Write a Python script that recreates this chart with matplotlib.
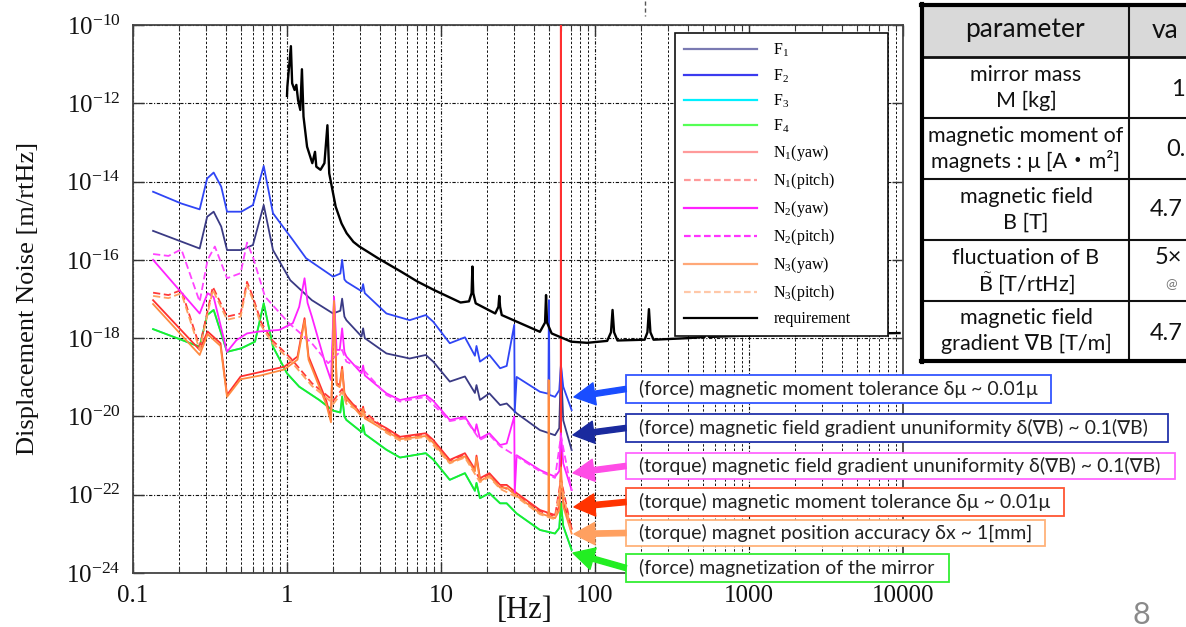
import matplotlib
matplotlib.use("Agg")
import matplotlib.pyplot as plt
from matplotlib.patches import Rectangle, FancyArrowPatch
from matplotlib.lines import Line2D
from matplotlib.ticker import NullLocator, LogLocator, NullFormatter

plt.rcParams['font.family'] = ['Liberation Serif', 'DejaVu Serif']
plt.rcParams['mathtext.fontset'] = 'custom'
plt.rcParams['mathtext.rm'] = 'Liberation Serif'
plt.rcParams['mathtext.it'] = 'Liberation Serif:italic'
plt.rcParams['mathtext.bf'] = 'Liberation Serif:bold'
plt.rcParams['mathtext.sf'] = 'Lato'

# ---------------- data ----------------
f1_freq = [0.135, 0.271, 0.303, 0.334, 0.374, 0.408, 0.505, 0.601, 0.706, 0.811, 1.05, 1.45, 1.99, 2.22, 2.28,
           2.36, 2.43, 3.05, 3.12, 3.2, 4.42, 6.26, 7.96, 8.9, 11.4, 14.3, 16.6, 17.0, 17.9, 20.6, 24.2, 26.7,
           31.0, 43.9, 55.0, 58.6, 60.1, 62.2, 70.5]
f1_vals = [5.50e-16, 1.95e-16, 1.26e-15, 1.70e-15, 7.08e-16, 1.78e-16, 1.78e-16, 2.40e-16, 2.51e-15, 1.78e-16,
           3.02e-17, 9.33e-18, 4.27e-18, 5.01e-18, 1.02e-17, 3.55e-18, 2.88e-18, 1.10e-18, 1.78e-18, 1.00e-18,
           4.07e-19, 3.02e-19, 3.72e-19, 2.51e-19, 7.76e-20, 1.05e-19, 3.98e-20, 6.31e-20, 2.63e-20, 3.89e-20,
           1.95e-20, 2.14e-20, 1.20e-20, 4.47e-21, 3.31e-21, 5.01e-21, 2.29e-19, 7.94e-21, 1.38e-21]

f2_freq = [0.135, 0.206, 0.271, 0.303, 0.334, 0.374, 0.408, 0.505, 0.601, 0.706, 0.811, 1.09, 1.33, 1.99, 2.22,
           2.28, 2.36, 2.43, 3.05, 3.12, 3.2, 4.42, 6.26, 7.96, 8.9, 11.4, 14.3, 16.6, 17.0, 17.9, 20.6, 24.2,
           26.7, 29.9, 30.1, 31.0, 43.9, 49.8, 50.2, 50.6, 55.0, 58.6, 60.1, 62.2, 70.5]
f2_vals = [5.50e-15, 2.75e-15, 1.95e-15, 1.20e-14, 1.70e-14, 7.41e-15, 1.70e-15, 1.70e-15, 2.51e-15, 2.51e-14,
           1.55e-15, 3.24e-16, 1.10e-16, 3.72e-17, 4.47e-17, 1.00e-16, 3.16e-17, 2.75e-17, 1.58e-17, 2.40e-17,
           1.41e-17, 4.27e-18, 2.88e-18, 3.89e-18, 2.63e-18, 7.41e-19, 1.05e-18, 3.55e-19, 6.31e-19, 2.51e-19,
           3.72e-19, 1.70e-19, 1.95e-19, 2.19e-18, 1.26e-20, 1.02e-19, 4.27e-20, 3.80e-20, 9.33e-18, 3.55e-20,
           3.16e-20, 4.68e-20, 2.04e-19, 5.75e-20, 1.45e-20]

f4_freq = [0.135, 0.271, 0.303, 0.334, 0.408, 0.505, 0.62, 0.706, 0.811, 1.0, 1.2, 1.62, 1.99, 2.22, 2.28, 2.36,
           2.43, 3.05, 3.12, 3.2, 4.42, 5.42, 7.96, 8.9, 11.4, 14.3, 16.6, 17.0, 17.9, 20.6, 24.2, 26.7, 31.0,
           43.9, 55.0, 58.6, 60.1, 62.2, 70.5]
f4_vals = [1.70e-18, 6.03e-19, 3.89e-18, 5.25e-18, 4.47e-19, 5.50e-19, 8.13e-19, 7.76e-18, 6.03e-19, 1.26e-19,
           5.75e-20, 2.63e-20, 1.41e-20, 1.26e-20, 3.24e-20, 1.00e-20, 8.13e-21, 3.98e-21, 6.03e-21, 3.55e-21,
           1.41e-21, 8.91e-22, 1.15e-21, 7.94e-22, 2.40e-22, 3.55e-22, 1.26e-22, 2.00e-22, 8.13e-23, 1.10e-22,
           6.03e-23, 6.03e-23, 3.31e-23, 1.26e-23, 1.02e-23, 1.41e-23, 6.03e-23, 1.58e-23, 3.89e-24]

# F3 lies under F4 in the picture (not visible separately)
f3_freq = f4_freq
f3_vals = f4_vals

n1yaw_freq = [0.135, 0.271, 0.305, 0.37, 0.408, 0.50, 0.68, 0.96, 1.17, 1.30, 1.38, 1.80, 1.93, 2.02, 2.10, 2.20,
              2.28, 2.36, 2.43, 3.05, 3.12, 3.2, 4.42, 5.42, 7.96, 8.9, 11.4, 14.3, 16.6, 17.0, 17.9, 20.6, 24.2,
              26.7, 31.0, 43.9, 55.0, 58.6, 59.9, 60.0, 60.2, 62.2, 70.5]
n1yaw_vals = [9.33e-18, 5.01e-19, 1.48e-18, 7.41e-19, 3.55e-20, 1.05e-19, 1.38e-19, 1.86e-19, 3.39e-19, 3.24e-18,
              3.39e-19, 2.51e-20, 8.13e-21, 1.05e-17, 7.08e-20, 6.31e-20, 1.86e-19, 3.98e-20, 3.24e-20, 1.12e-20,
              1.78e-20, 1.00e-20, 5.01e-21, 3.02e-21, 3.72e-21, 2.51e-21, 7.76e-22, 1.15e-21, 4.47e-22, 1.00e-21,
              2.63e-22, 3.55e-22, 1.78e-22, 1.78e-22, 1.10e-22, 4.07e-23, 3.02e-23, 5.01e-23, 3.16e-22, 3.16e-10,
              2.51e-22, 6.31e-23, 1.38e-23]

n1pitch_freq = [0.135, 0.17, 0.206, 0.271, 0.33, 0.408, 0.50, 0.55, 0.60, 0.68, 0.80, 1.05, 1.45, 1.80, 2.00, 2.28,
                2.43, 3.12, 4.42, 5.42, 7.96, 11.4, 14.3, 17.9, 20.6, 24.2, 31.0, 43.9, 55.0, 60.1, 70.5]
n1pitch_vals = [1.45e-17, 1.26e-17, 1.70e-17, 6.03e-19, 2.04e-17, 3.55e-18, 4.27e-18, 2.75e-17, 1.15e-17, 2.51e-18,
                8.91e-19, 3.16e-19, 7.08e-20, 3.55e-20, 2.51e-20, 5.01e-20, 2.51e-20, 1.41e-20, 4.47e-21, 2.82e-21,
                3.55e-21, 7.41e-22, 1.07e-21, 2.51e-22, 3.39e-22, 1.70e-22, 1.05e-22, 3.80e-23, 2.82e-23, 2.51e-22,
                1.26e-23]

n2yaw_freq = [0.135, 0.271, 0.305, 0.334, 0.408, 0.47, 0.55, 0.66, 0.89, 1.09, 1.20, 1.30, 1.36, 1.45, 1.77, 1.93,
              2.02, 2.10, 2.20, 2.28, 2.36, 2.43, 3.05, 3.12, 3.2, 4.42, 5.42, 7.96, 8.9, 11.4, 14.3, 16.6, 17.0,
              17.9, 20.6, 24.2, 26.7, 29.9, 30.1, 31.0, 43.9, 55.0, 58.6, 60.1, 62.2, 70.5]
n2yaw_vals = [1.00e-16, 4.27e-18, 1.41e-17, 1.12e-17, 4.47e-19, 8.91e-19, 1.32e-18, 1.48e-18, 1.62e-18, 2.40e-18,
              6.31e-18, 3.39e-17, 7.94e-18, 3.55e-18, 2.29e-19, 8.51e-20, 1.15e-17, 5.01e-19, 5.01e-19, 1.78e-18,
              4.47e-19, 3.39e-19, 1.26e-19, 2.00e-19, 1.12e-19, 3.89e-20, 2.63e-20, 3.55e-20, 2.51e-20, 8.13e-21,
              9.77e-21, 3.98e-21, 6.31e-21, 2.75e-21, 3.72e-21, 1.86e-21, 2.04e-21, 1.00e-20, 1.10e-22, 1.02e-21,
              4.27e-22, 2.88e-22, 3.98e-22, 3.72e-21, 6.31e-22, 1.32e-22]

n2pitch_freq = [0.135, 0.17, 0.206, 0.271, 0.305, 0.34, 0.408, 0.50, 0.55, 0.60, 0.72, 1.03, 1.45, 1.85, 2.28, 2.43,
                3.12, 4.42, 5.42, 7.96, 11.4, 14.3, 17.9, 20.6, 24.2, 31.0, 43.9, 55.0, 60.1, 70.5]
n2pitch_vals = [1.41e-16, 1.26e-16, 1.86e-16, 8.51e-18, 1.00e-16, 2.19e-16, 3.39e-17, 4.57e-17, 2.75e-16, 1.20e-16,
                1.15e-17, 2.40e-18, 7.41e-19, 2.29e-19, 5.01e-19, 2.51e-19, 1.58e-19, 3.55e-20, 2.40e-20, 3.16e-20,
                7.59e-21, 8.91e-21, 2.51e-21, 3.39e-21, 1.74e-21, 9.55e-22, 3.98e-22, 2.69e-22, 3.16e-21, 1.26e-22]

n3yaw_freq = [0.135, 0.271, 0.305, 0.37, 0.408, 0.50, 0.68, 0.96, 1.17, 1.30, 1.38, 1.80, 1.93, 2.02, 2.10, 2.20,
              2.28, 2.36, 2.43, 3.05, 3.12, 3.2, 4.42, 5.42, 7.96, 8.9, 11.4, 14.3, 16.6, 17.0, 17.9, 20.6, 24.2,
              26.7, 31.0, 43.9, 49.8, 50.0, 50.3, 55.0, 58.6, 60.1, 62.2, 70.5]
n3yaw_vals = [7.41e-18, 3.72e-19, 1.26e-18, 6.31e-19, 3.16e-20, 8.91e-20, 1.12e-19, 1.58e-19, 2.82e-19, 2.82e-18,
              2.82e-19, 2.00e-20, 7.08e-21, 8.91e-18, 6.31e-20, 5.62e-20, 1.58e-19, 3.55e-20, 2.82e-20, 1.00e-20,
              1.58e-20, 8.91e-21, 4.17e-21, 2.63e-21, 3.16e-21, 2.14e-21, 6.61e-22, 9.55e-22, 3.98e-22, 8.91e-22,
              2.24e-22, 3.02e-22, 1.51e-22, 1.51e-22, 9.33e-23, 3.39e-23, 2.82e-23, 8.51e-20, 2.82e-23, 2.51e-23,
              3.98e-23, 5.01e-22, 5.01e-23, 1.02e-23]

n3pitch_freq = [0.135, 0.17, 0.206, 0.271, 0.33, 0.408, 0.50, 0.55, 0.60, 0.68, 0.80, 1.05, 1.45, 1.80, 2.00, 2.28,
                2.43, 3.12, 4.42, 5.42, 7.96, 11.4, 14.3, 17.9, 20.6, 24.2, 31.0, 43.9, 55.0, 60.1, 70.5]
n3pitch_vals = [1.20e-17, 1.05e-17, 1.41e-17, 5.01e-19, 1.70e-17, 2.95e-18, 3.55e-18, 2.29e-17, 9.55e-18, 2.09e-18,
                7.59e-19, 2.69e-19, 6.03e-20, 3.02e-20, 2.09e-20, 4.17e-20, 2.09e-20, 1.20e-20, 3.80e-21, 2.40e-21,
                3.02e-21, 6.31e-22, 8.91e-22, 2.09e-22, 2.82e-22, 1.41e-22, 8.71e-23, 3.16e-23, 2.34e-23, 2.00e-22,
                1.00e-23]

req_freq = [1.00, 1.005, 1.06, 1.08, 1.12, 1.15, 1.18, 1.22, 1.25, 1.28, 1.35, 1.46, 1.52, 1.55, 1.65, 1.75, 1.83,
            1.88, 2.07, 2.26, 2.44, 2.70, 2.95, 3.46, 3.9, 5.5, 7.0, 9.0, 13.4, 15.2, 15.8, 16.0, 16.2, 16.8, 22.5,
            23.6, 23.9, 24.2, 24.8, 43.9, 47.4, 48.1, 48.8, 52.3, 70, 89, 120, 127, 130, 133, 140, 210, 219, 224,
            229, 240, 400, 515, 528, 533, 538, 550, 1000, 3000, 9500]
req_vals = [1.55e-12, 2.63e-12, 2.88e-11, 3.24e-12, 2.19e-12, 2.95e-12, 1.20e-12, 6.76e-13, 7.41e-12, 4.57e-13,
            7.76e-14, 2.95e-14, 5.75e-14, 2.40e-14, 2.00e-14, 2.95e-14, 2.75e-13, 1.62e-14, 2.29e-15, 8.51e-16,
            4.79e-16, 2.88e-16, 2.19e-16, 1.48e-16, 1.10e-16, 5.01e-17, 2.82e-17, 1.70e-17, 8.13e-18, 8.71e-18,
            1.41e-17, 6.76e-17, 1.41e-17, 7.76e-18, 4.27e-18, 6.31e-18, 1.20e-17, 6.31e-18, 3.89e-18, 1.45e-18,
            2.51e-18, 1.26e-17, 2.51e-18, 1.32e-18, 8.13e-19, 7.59e-19, 8.51e-19, 1.41e-18, 5.25e-18, 1.41e-18,
            8.71e-19, 9.12e-19, 1.41e-18, 5.50e-18, 1.41e-18, 9.12e-19, 1.00e-18, 1.07e-18, 1.41e-18, 2.51e-18,
            1.41e-18, 1.07e-18, 1.17e-18, 1.26e-18, 1.35e-18]

legend_labels = ['F$_1$', 'F$_2$', 'F$_3$', 'F$_4$', 'N$_1$(yaw)', 'N$_1$(pitch)', 'N$_2$(yaw)', 'N$_2$(pitch)',
                 'N$_3$(yaw)', 'N$_3$(pitch)', 'requirement']

x_ticks = [0.1, 1, 10, 100, 1000, 10000]
x_tick_labels = ['0.1', '1', '10', '100', '1000', '10000']
y_ticks = [1e-24, 1e-22, 1e-20, 1e-18, 1e-16, 1e-14, 1e-12, 1e-10]
y_tick_labels = [r'$\mathregular{10^{-24}}$', r'$\mathregular{10^{-22}}$', r'$\mathregular{10^{-20}}$',
                 r'$\mathregular{10^{-18}}$', r'$\mathregular{10^{-16}}$', r'$\mathregular{10^{-14}}$',
                 r'$\mathregular{10^{-12}}$', r'$\mathregular{10^{-10}}$']

table_params = [("mirror mass", "M [kg]"),
                ("magnetic moment of", "magnets : \u03bc [A\u30fbm\u00b2]"),
                ("magnetic field", "B [T]"),
                ("fluctuation of B", r"$\tilde{\mathsf{B}}$ [T/rtHz]"),
                ("magnetic field", "gradient \u2207B [T/m]")]
table_values = ["1", "0.", "4.7", "5\u00d7", "4.7"]

annotations = [
    "(force) magnetic moment tolerance \u03b4\u03bc ~ 0.01\u03bc",
    "(force) magnetic field gradient ununiformity \u03b4(\u2207B) ~ 0.1(\u2207B)",
    "(torque) magnetic field gradient ununiformity \u03b4(\u2207B) ~ 0.1(\u2207B)",
    "(torque) magnetic moment tolerance \u03b4\u03bc ~ 0.01\u03bc",
    "(torque) magnet position accuracy \u03b4x ~ 1[mm]",
    "(force) magnetization of the mirror",
]

# ---------------- figure ----------------
W, H = 1186, 627
fig = plt.figure(figsize=(W / 100, H / 100), dpi=100)


def fx(x):
    return x / W


def fy(y):
    return 1 - y / H


ax = fig.add_axes([fx(133), fy(573), (903 - 133) / W, (573 - 25) / H])
ax.set_xscale('log')
ax.set_yscale('log')

series = [
    (f1_freq, f1_vals, '#3a3a84', '-'),
    (f2_freq, f2_vals, '#2f45f5', '-'),
    (f3_freq, f3_vals, '#00e8ff', '-'),
    (f4_freq, f4_vals, '#22ee22', '-'),
    (n1yaw_freq, n1yaw_vals, '#ff3030', '-'),
    (n1pitch_freq, n1pitch_vals, '#ff3a3a', (0, (4, 2))),
    (n2yaw_freq, n2yaw_vals, '#ff22ff', '-'),
    (n2pitch_freq, n2pitch_vals, '#ff44ff', (0, (4, 2))),
    (n3yaw_freq, n3yaw_vals, '#ff8a40', '-'),
    (n3pitch_freq, n3pitch_vals, '#ffa060', (0, (4, 2))),
    (req_freq, req_vals, '#000000', '-'),
]
for i, (fr, vals, col, ls) in enumerate(series):
    lw = 1.7 if i == len(series) - 1 else 1.3
    ax.plot(fr, vals, color=col, ls=ls, lw=lw, zorder=3 + i * 0.01)

ax.set_xlim(0.1, 10000)
ax.set_ylim(1e-24, 1e-10)
ax.set_xticks(x_ticks)
ax.set_xticklabels(x_tick_labels)
ax.xaxis.set_minor_locator(LogLocator(base=10, subs=range(2, 10), numticks=20))
ax.xaxis.set_minor_formatter(NullFormatter())
ax.set_yticks(y_ticks)
ax.set_yticklabels(y_tick_labels)
ax.yaxis.set_minor_locator(NullLocator())

ax.grid(True, which='major', axis='both', color='#111111', ls=(0, (3, 1.5, 1, 1.5)), lw=0.8, zorder=1)
ax.grid(True, which='minor', axis='x', color='#111111', ls=(0, (2.5, 2)), lw=0.7, zorder=1)
ax.set_axisbelow(True)

ax.tick_params(which='both', direction='in', top=True, right=True, colors='#333333')
ax.tick_params(which='major', length=8, width=1.0, labelsize=18, pad=9, labelcolor='#111111')
ax.tick_params(which='minor', length=4, width=0.8)
for s in ax.spines.values():
    s.set_linewidth(1.3)
    s.set_color('#444444')

fig.text(fx(28), fy(298), 'Displacement Noise [m/rtHz]', rotation=90, ha='center', va='center',
         fontsize=19, color='#111111')
fig.text(fx(525), fy(611), '[Hz]', ha='center', va='center', fontsize=22, color='#111111')

# small dashed artifact above the plot
fig.add_artist(Line2D([fx(645), fx(645)], [fy(1), fy(16)], transform=fig.transFigure,
                      color='#555555', lw=1.0, ls=(0, (3, 2))))

# ---------------- legend ----------------
legend_colors = ['#7a7ab2', '#3b3bef', '#00f0ff', '#55ff55', '#ff9a9a', '#ff9a9a', '#ff22ff', '#ff33ff',
                 '#ffa878', '#ffc8a8', '#000000']
legend_styles = ['-', '-', '-', '-', '-', (0, (3, 1.5)), '-', (0, (3, 1.5)), '-', (0, (3, 1.5)), '-']
handles = [Line2D([], [], color=c, ls=s, lw=1.6) for c, s in zip(legend_colors, legend_styles)]
leg = ax.legend(handles, legend_labels, loc='upper left',
                bbox_to_anchor=(fx(675), fy(323), (888 - 675) / W, (323 - 33) / H),
                bbox_transform=fig.transFigure, mode='expand', fontsize=11.5, frameon=True, fancybox=False,
                framealpha=1, edgecolor='#111111', borderaxespad=0, borderpad=0.55, labelspacing=0.5,
                handlelength=4.6, handletextpad=1.0)
leg.get_frame().set_linewidth(1.2)
leg.set_zorder(10)

# ---------------- table ----------------
TF = ['Lato', 'DejaVu Sans', 'Noto Sans CJK JP']


def frect(x0, y0, x1, y1, **kw):
    return Rectangle((fx(x0), fy(y1)), (x1 - x0) / W, (y1 - y0) / H, transform=fig.transFigure, **kw)


fig.add_artist(frect(922, 5, 1190, 57, facecolor='#d9d9d9', edgecolor='none'))
fig.add_artist(frect(922, 57, 1190, 361, facecolor='white', edgecolor='none'))
row_lines = [57, 118, 179, 240, 301]
for yy in row_lines:
    fig.add_artist(Line2D([fx(922), fx(1190)], [fy(yy), fy(yy)], transform=fig.transFigure,
                          color='#111111', lw=2.0 if yy == 57 else 1.5))
fig.add_artist(Line2D([fx(1129), fx(1129)], [fy(5), fy(361)], transform=fig.transFigure, color='#111111', lw=1.5))
for (xa, xb, ya, yb) in [(922, 922, 4, 362), (921, 1190, 5, 5), (921, 1190, 361, 361)]:
    fig.add_artist(Line2D([fx(xa), fx(xb)], [fy(ya), fy(yb)], transform=fig.transFigure,
                          color='#000000', lw=3.0, solid_capstyle='projecting'))

fig.text(fx(1025), fy(30), 'parameter', ha='center', va='center', fontsize=19, family=TF, color='#111111')
fig.text(fx(1152), fy(30), 'va', ha='left', va='center', fontsize=19, family=TF, color='#111111')
row_centers = [87.5, 148.5, 209.5, 270.5, 331]
for (l1, l2), yc in zip(table_params, row_centers):
    fig.text(fx(1026), fy(yc - 12.5), l1, ha='center', va='center', fontsize=15.5, family=TF, color='#111111')
    fig.text(fx(1026), fy(yc + 13), l2, ha='center', va='center', fontsize=15.5, family=TF, color='#111111')
value_x = [1171, 1166, 1150, 1155, 1150]
value_y = [90, 150, 210, 257, 333]
for v, xx, yy in zip(table_values, value_x, value_y):
    fig.text(fx(xx), fy(yy), v, ha='left', va='center', fontsize=17, family=TF, color='#111111')
fig.text(fx(1165), fy(284), '@', ha='left', va='center', fontsize=10, family=TF, color='#777777')

# ---------------- annotation boxes and arrows ----------------
box_edges = ['#3355ff', '#2233aa', '#ff66ff', '#ff5533', '#ffb27a', '#33ee33']
arrow_cols = ['#1a4dff', '#1a2a9e', '#ff4de6', '#ff3300', '#ffa060', '#22ee22']
box_y = [(375, 403), (414, 442), (453, 479), (488, 516), (520, 546), (554, 582)]
box_x1 = [1051, 1168, 1175, 1064, 1045, 949]
arrow_tail = [(626, 389), (626, 428), (626, 466), (626, 502), (626, 533), (626, 568)]
arrow_tip = [(574, 397), (573, 435), (573, 473), (574, 507), (574, 534), (573, 553)]

for i, txt in enumerate(annotations):
    y0, y1 = box_y[i]
    fig.add_artist(frect(626, y0, box_x1[i], y1, facecolor='white', edgecolor=box_edges[i], lw=1.3, zorder=5))
    fig.text(fx(639), fy((y0 + y1) / 2), txt, ha='left', va='center', fontsize=14, family=TF,
             color='#222222', zorder=6)
    (xt, yt), (xh, yh) = arrow_tail[i], arrow_tip[i]
    arr = FancyArrowPatch((fx(xt), fy(yt)), (fx(xh), fy(yh)), transform=fig.transFigure,
                          arrowstyle='simple,head_length=1.5,head_width=1.6,tail_width=0.38',
                          mutation_scale=10, color=arrow_cols[i], shrinkA=0, shrinkB=0, zorder=6)
    fig.add_artist(arr)

fig.text(fx(1141), fy(615), '8', ha='center', va='center', fontsize=22, family=TF, color='#8a8a8a')

fig.savefig('out.png', dpi=100)
